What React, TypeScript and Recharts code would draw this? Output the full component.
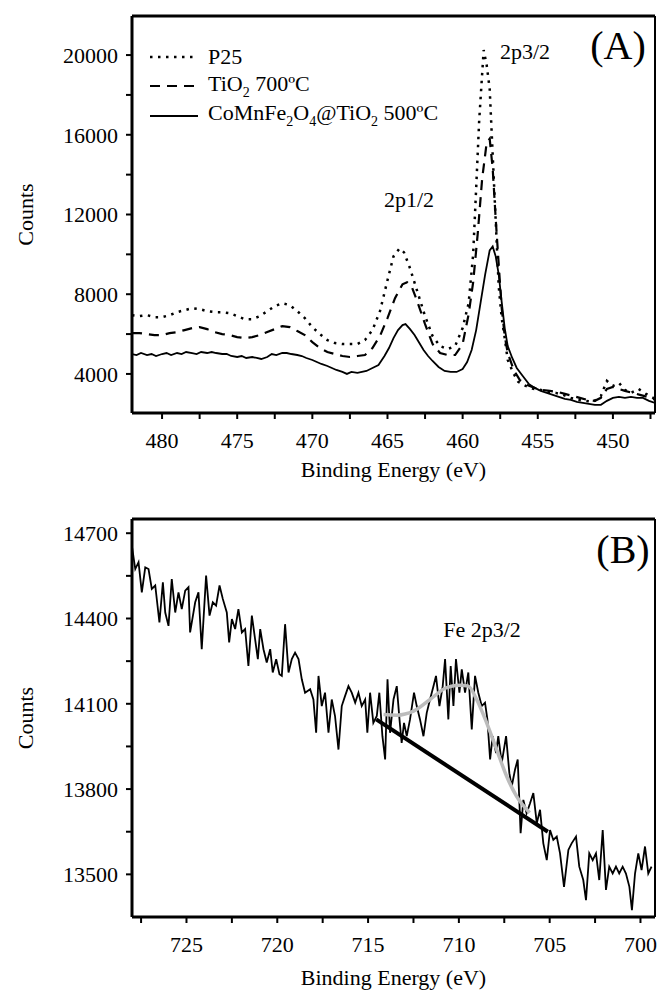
import React from 'react';
import { LineChart, Line, XAxis, YAxis, ReferenceLine, Legend, Label } from 'recharts';

const FONT = '"Liberation Serif","Times New Roman",Times,serif';

// ---------- Panel A : Ti 2p ----------
const p25: number[][] = [
  [482.0, 6950], [481.5, 6900], [481.0, 6950], [480.5, 6850], [480.0, 6850], [479.5, 6950], [479.0, 7100],
  [478.5, 7200], [478.0, 7300], [477.5, 7250], [477.0, 7150], [476.5, 7100], [476.0, 7100], [475.5, 7050],
  [475.0, 6900], [474.5, 6750], [474.0, 6750], [473.5, 6900], [473.0, 7150], [472.5, 7400], [472.0, 7550],
  [471.5, 7450], [471.0, 7150], [470.5, 6800], [470.0, 6350], [469.5, 6000], [469.0, 5700], [468.5, 5550],
  [468.0, 5500], [467.5, 5500], [467.0, 5500], [466.5, 5700], [466.0, 6200], [465.5, 7150], [465.0, 8700],
  [464.6, 9900], [464.2, 10300], [463.9, 10100], [463.5, 9300], [463.0, 8100], [462.5, 6900], [462.0, 5900],
  [461.5, 5400], [461.0, 5250], [460.5, 5400], [460.0, 6300], [459.6, 7550], [459.3, 10000], [459.1, 13300],
  [458.9, 16700], [458.6, 20250], [458.4, 19500], [458.2, 18300], [458.0, 15000], [457.8, 11700], [457.6, 8400],
  [457.4, 6800], [457.2, 5800], [457.0, 4700], [456.6, 4000], [456.3, 3600], [455.8, 3400], [455.3, 3250],
  [454.8, 3200], [454.3, 3100], [453.8, 3050], [453.3, 2950], [452.8, 2800], [452.3, 2700], [451.8, 2650],
  [451.3, 2600], [450.8, 2900], [450.4, 3650], [450.0, 3400], [449.6, 3550], [449.2, 3200], [448.8, 3050],
  [448.3, 3250], [447.8, 3000], [447.2, 2750],
];

const tio2: number[][] = [
  [482.0, 6050], [481.5, 6050], [481.0, 6000], [480.5, 5950], [480.0, 5950], [479.5, 6050], [479.0, 6100],
  [478.5, 6200], [478.0, 6300], [477.5, 6350], [477.0, 6250], [476.5, 6100], [476.0, 6000], [475.5, 5950],
  [475.0, 5850], [474.5, 5800], [474.0, 5850], [473.5, 5950], [473.0, 6100], [472.5, 6250], [472.0, 6400],
  [471.5, 6350], [471.0, 6150], [470.5, 5950], [470.0, 5600], [469.5, 5300], [469.0, 5100], [468.5, 5000],
  [468.0, 4900], [467.5, 4850], [467.0, 4900], [466.5, 4950], [466.0, 5300], [465.5, 5900], [465.0, 6800],
  [464.5, 7800], [464.0, 8500], [463.7, 8600], [463.4, 8400], [463.0, 7600], [462.5, 6500], [462.0, 5500],
  [461.5, 5050], [461.0, 4950], [460.5, 4950], [460.0, 5500], [459.6, 7000], [459.3, 8600], [459.0, 11000],
  [458.7, 13800], [458.4, 15600], [458.2, 15800], [458.0, 14300], [457.8, 11800], [457.6, 9500], [457.4, 7300],
  [457.2, 5900], [457.0, 5050], [456.6, 4200], [456.2, 3700], [455.7, 3450], [455.2, 3300], [454.7, 3200],
  [454.2, 3150], [453.7, 3100], [453.2, 3000], [452.7, 2900], [452.2, 2800], [451.7, 2700], [451.2, 2650],
  [450.8, 2800], [450.4, 3250], [450.0, 3350], [449.6, 3250], [449.2, 3150], [448.7, 3050], [448.2, 2950],
  [447.7, 2850], [447.2, 2700],
];

const comn: number[][] = [
  [482.0, 5000], [481.7, 4950], [481.4, 5050], [481.0, 4950], [480.7, 5000], [480.4, 4900], [480.0, 5000],
  [479.7, 5050], [479.4, 4950], [479.0, 5050], [478.7, 5000], [478.4, 5100], [478.0, 5050], [477.7, 5000],
  [477.4, 5100], [477.0, 5050], [476.7, 5100], [476.4, 5050], [476.0, 5000], [475.7, 5000], [475.4, 4900],
  [475.0, 4850], [474.7, 4900], [474.4, 4800], [474.0, 4850], [473.7, 4800], [473.4, 4750], [473.0, 4850],
  [472.7, 5000], [472.4, 4950], [472.0, 5050], [471.7, 5050], [471.4, 5000], [471.0, 4950], [470.7, 4900],
  [470.4, 4800], [470.0, 4700], [469.7, 4600], [469.4, 4500], [469.0, 4400], [468.7, 4300], [468.4, 4200],
  [468.0, 4100], [467.7, 4000], [467.4, 4100], [467.0, 4050], [466.7, 4100], [466.4, 4150], [466.0, 4300],
  [465.6, 4450], [465.2, 4900], [464.9, 5300], [464.6, 5800], [464.3, 6200], [464.0, 6450], [463.8, 6500],
  [463.5, 6250], [463.2, 5950], [463.0, 5700], [462.6, 5200], [462.3, 4900], [462.0, 4650], [461.6, 4350],
  [461.2, 4150], [460.8, 4100], [460.4, 4100], [460.0, 4250], [459.7, 4600], [459.4, 5200], [459.1, 6200],
  [458.8, 7600], [458.5, 9000], [458.2, 10200], [458.0, 10400], [457.8, 9900], [457.6, 9000], [457.4, 7600],
  [457.2, 6300], [457.0, 5400], [456.7, 4800], [456.4, 4300], [456.0, 3900], [455.6, 3500], [455.2, 3300],
  [454.8, 3150], [454.4, 3050], [454.0, 2950], [453.6, 2850], [453.2, 2750], [452.8, 2700], [452.4, 2600],
  [452.0, 2550], [451.6, 2500], [451.2, 2450], [450.8, 2450], [450.4, 2650], [450.0, 2800], [449.6, 2850],
  [449.2, 2800], [448.8, 2850], [448.4, 2800], [448.0, 2800], [447.6, 2650], [447.2, 2550],
];

const aXTicks = [480, 477.5, 475, 472.5, 470, 467.5, 465, 462.5, 460, 457.5, 455, 452.5, 450, 447.5];
const aYTicks = [4000, 6000, 8000, 10000, 12000, 14000, 16000, 18000, 20000];

// ---------- Panel B : Fe 2p3/2 ----------
const feSpectrum: number[][] = [
  [728.01, 14657], [727.82, 14574], [727.64, 14598], [727.46, 14492], [727.27, 14580], [727.09, 14574],
  [726.91, 14504], [726.72, 14516], [726.49, 14386], [726.30, 14527], [726.17, 14421], [725.99, 14374],
  [725.81, 14539], [725.62, 14421], [725.44, 14492], [725.26, 14433], [725.07, 14498], [724.89, 14510],
  [724.80, 14351], [724.52, 14457], [724.34, 14492], [724.16, 14292], [723.92, 14551], [723.73, 14410],
  [723.55, 14457], [723.37, 14445], [723.18, 14516], [723.00, 14469], [722.78, 14421], [722.65, 14316],
  [722.50, 14398], [722.32, 14363], [722.14, 14433], [721.95, 14351], [721.77, 14363], [721.59, 14233],
  [721.40, 14410], [721.22, 14327], [721.07, 14257], [720.94, 14363], [720.76, 14292], [720.58, 14245],
  [720.39, 14292], [720.25, 14210], [720.06, 14257], [719.88, 14204], [719.75, 14198], [719.57, 14380],
  [719.38, 14210], [719.20, 14257], [719.02, 14280], [718.83, 14257], [718.65, 14186], [718.47, 14139],
  [718.19, 14151], [718.01, 14115], [717.86, 13998], [717.73, 14198], [717.55, 14092], [717.37, 14139],
  [717.18, 13998], [717.00, 14115], [716.82, 14057], [716.63, 13939], [716.45, 14092], [716.27, 14127],
  [716.08, 14162], [715.90, 14139], [715.71, 14104], [715.53, 14139], [715.35, 14092], [715.16, 14115],
  [715.04, 13998], [714.89, 14139], [714.71, 14033], [714.52, 14057], [714.38, 14139], [714.21, 13986],
  [714.06, 13904], [713.93, 14186], [713.79, 13998], [713.60, 14115], [713.42, 14162], [713.27, 14045],
  [713.15, 13962], [713.02, 14033], [712.87, 13986], [712.69, 14045], [712.47, 14139], [712.32, 14092],
  [712.14, 14045], [711.95, 13986], [711.77, 14068], [711.59, 14115], [711.40, 14162], [711.26, 14198],
  [711.07, 14092], [710.89, 14162], [710.76, 14257], [710.58, 14045], [710.45, 14233], [710.30, 14092],
  [710.16, 14257], [709.97, 14139], [709.84, 14221], [709.66, 14139], [709.48, 14210], [709.29, 14010],
  [709.11, 14198], [708.93, 14139], [708.74, 14092], [708.56, 14104], [708.43, 14045], [708.28, 13904],
  [708.14, 13986], [707.95, 13927], [707.83, 13986], [707.64, 13892], [707.40, 13986], [707.22, 13856],
  [707.09, 13809], [706.91, 13868], [706.76, 13904], [706.60, 13645], [706.45, 13762], [706.27, 13715],
  [706.08, 13750], [705.90, 13786], [705.71, 13680], [705.53, 13727], [705.35, 13609], [705.16, 13550],
  [704.98, 13656], [704.80, 13621], [704.61, 13633], [704.43, 13574], [704.21, 13456], [703.97, 13586],
  [703.79, 13609], [703.55, 13633], [703.37, 13527], [703.15, 13480], [703.00, 13409], [702.82, 13574],
  [702.63, 13550], [702.45, 13574], [702.27, 13480], [702.08, 13656], [701.90, 13445], [701.72, 13527],
  [701.53, 13503], [701.35, 13527], [701.17, 13503], [700.98, 13527], [700.80, 13503], [700.61, 13456],
  [700.47, 13374], [700.30, 13503], [700.12, 13574], [699.94, 13515], [699.75, 13598], [699.57, 13503],
  [699.39, 13527],
];

const feBaseline: number[][] = [[714.55, 14045], [705.1, 13650]];

const feFit: number[][] = [
  [714.15, 14062], [713.42, 14060], [712.5, 14074], [711.59, 14115], [710.67, 14157], [709.93, 14165],
  [709.48, 14162], [709.02, 14115], [708.47, 14033], [707.92, 13939], [707.37, 13845], [706.82, 13774],
  [706.1, 13717],
];

const bXTicks = [727.5, 725, 722.5, 720, 717.5, 715, 712.5, 710, 707.5, 705, 702.5, 700];
const bYTicks = [13500, 13650, 13800, 13950, 14100, 14250, 14400, 14550, 14700];

const toRows = (pairs: number[][]) => pairs.map(([e, v]) => ({ e, v }));

const tickStyle = { fill: '#000', fontSize: 22, fontFamily: FONT };
const axisLineStyle = { stroke: '#000', strokeWidth: 3 };
const tickLineStyle = { stroke: '#000', strokeWidth: 2 };
const labelStyle = { fill: '#000', fontSize: 22, fontFamily: FONT };

const Sub = ({ children }: { children: React.ReactNode }) => (
  <span style={{ fontSize: 14, verticalAlign: -6 }}>{children}</span>
);

const LegendBox = () => {
  const row = (dash: string | undefined, width: number, label: React.ReactNode) => (
    <div style={{ display: 'flex', alignItems: 'center', height: 29.5 }}>
      <svg width={52} height={10} style={{ marginRight: 8 }}>
        <line x1={2} y1={5} x2={50} y2={5} stroke="#000" strokeWidth={width} strokeDasharray={dash} />
      </svg>
      <span style={{ fontFamily: FONT, fontSize: 22, color: '#000', whiteSpace: 'nowrap', lineHeight: 1 }}>{label}</span>
    </div>
  );
  return (
    <div>
      {row('2.5 5.5', 2.5, 'P25')}
      {row('10 7', 2.2, <>TiO<Sub>2</Sub> 700ºC</>)}
      {row(undefined, 1.8, <>CoMnFe<Sub>2</Sub>O<Sub>4</Sub>@TiO<Sub>2</Sub> 500ºC</>)}
    </div>
  );
};

const Txt = ({ x, y, size, children }: { x: number; y: number; size: number; children: React.ReactNode }) => (
  <div
    style={{
      position: 'absolute', left: x, top: y, transform: 'translate(-50%, -50%)',
      fontFamily: FONT, fontSize: size, lineHeight: 1, color: '#000', whiteSpace: 'nowrap',
    }}
  >
    {children}
  </div>
);

export default function App() {
  return (
    <div style={{ position: 'absolute', left: 0, top: 0, width: 658, height: 992, background: '#fff', overflow: 'hidden' }}>
      <div style={{ position: 'absolute', left: 0, top: 0 }}>
        <LineChart width={658} height={496} margin={{ top: 16, right: 3, bottom: 16, left: 0 }}>
          <XAxis
            type="number" dataKey="e" domain={[447.2, 482]} reversed allowDataOverflow
            ticks={aXTicks} interval={0} tickFormatter={(v: number) => (v % 5 === 0 ? String(v) : '')}
            height={67} axisLine={axisLineStyle} tickLine={tickLineStyle} tickSize={6} tickMargin={13} tick={tickStyle}
          >
            <Label value="Binding Energy (eV)" position="insideBottom" offset={3} style={labelStyle} />
          </XAxis>
          <YAxis
            type="number" dataKey="v" domain={[2040, 21960]} allowDataOverflow
            ticks={aYTicks} interval={0} tickFormatter={(v: number) => (v % 4000 === 0 ? String(v) : '')}
            width={132} axisLine={axisLineStyle} tickLine={tickLineStyle} tickSize={6} tickMargin={8} tick={tickStyle}
          >
            <Label value="Counts" angle={-90} position="insideLeft" offset={25} style={{ ...labelStyle, textAnchor: 'middle' }} />
          </YAxis>
          <ReferenceLine y={21960} stroke="#000" strokeWidth={3} />
          <ReferenceLine x={447.2} stroke="#000" strokeWidth={2} />
          <Legend
            layout="vertical" align="center" verticalAlign="middle"
            wrapperStyle={{ top: 42, left: 148, width: 'auto', height: 'auto' }}
            content={() => <LegendBox />}
          />
          <Line data={toRows(p25)} dataKey="v" name="P25" type="linear" stroke="#000" strokeWidth={2.5}
            strokeDasharray="2.5 5.5" dot={false} isAnimationActive={false} />
          <Line data={toRows(tio2)} dataKey="v" name="TiO2 700ºC" type="linear" stroke="#000" strokeWidth={2.2}
            strokeDasharray="10 7" dot={false} isAnimationActive={false} />
          <Line data={toRows(comn)} dataKey="v" name="CoMnFe2O4@TiO2 500ºC" type="linear" stroke="#000" strokeWidth={1.8}
            dot={false} isAnimationActive={false} />
        </LineChart>
      </div>

      <div style={{ position: 'absolute', left: 0, top: 500 }}>
        <LineChart width={658} height={492} margin={{ top: 19, right: 3, bottom: 0, left: 0 }}>
          <XAxis
            type="number" dataKey="e" domain={[699.2, 728]} reversed allowDataOverflow
            ticks={bXTicks} interval={0} tickFormatter={(v: number) => (v % 5 === 0 ? String(v) : '')}
            height={75} axisLine={axisLineStyle} tickLine={tickLineStyle} tickSize={6} tickMargin={13} tick={tickStyle}
          >
            <Label value="Binding Energy (eV)" position="insideBottom" offset={7} style={labelStyle} />
          </XAxis>
          <YAxis
            type="number" dataKey="v" domain={[13350, 14750]} allowDataOverflow
            ticks={bYTicks} interval={0} tickFormatter={(v: number) => ((v - 13500) % 300 === 0 ? String(v) : '')}
            width={132} axisLine={axisLineStyle} tickLine={tickLineStyle} tickSize={6} tickMargin={8} tick={tickStyle}
          >
            <Label value="Counts" angle={-90} position="insideLeft" offset={25} style={{ ...labelStyle, textAnchor: 'middle' }} />
          </YAxis>
          <ReferenceLine y={14750} stroke="#000" strokeWidth={3} />
          <ReferenceLine x={699.2} stroke="#000" strokeWidth={2} />
          <Line data={toRows(feSpectrum)} dataKey="v" type="linear" stroke="#000" strokeWidth={1.8}
            dot={false} isAnimationActive={false} />
          <Line data={toRows(feBaseline)} dataKey="v" type="linear" stroke="#000" strokeWidth={4}
            dot={false} isAnimationActive={false} />
          <Line data={toRows(feFit)} dataKey="v" type="monotone" stroke="#bcbcbc" strokeWidth={3.5}
            dot={false} isAnimationActive={false} />
        </LineChart>
      </div>

      <Txt x={618} y={46} size={40}>(A)</Txt>
      <Txt x={525} y={52} size={22}>2p3/2</Txt>
      <Txt x={409} y={200} size={22}>2p1/2</Txt>
      <Txt x={623} y={550} size={40}>(B)</Txt>
      <Txt x={482} y={630} size={22}>Fe 2p3/2</Txt>
    </div>
  );
}
